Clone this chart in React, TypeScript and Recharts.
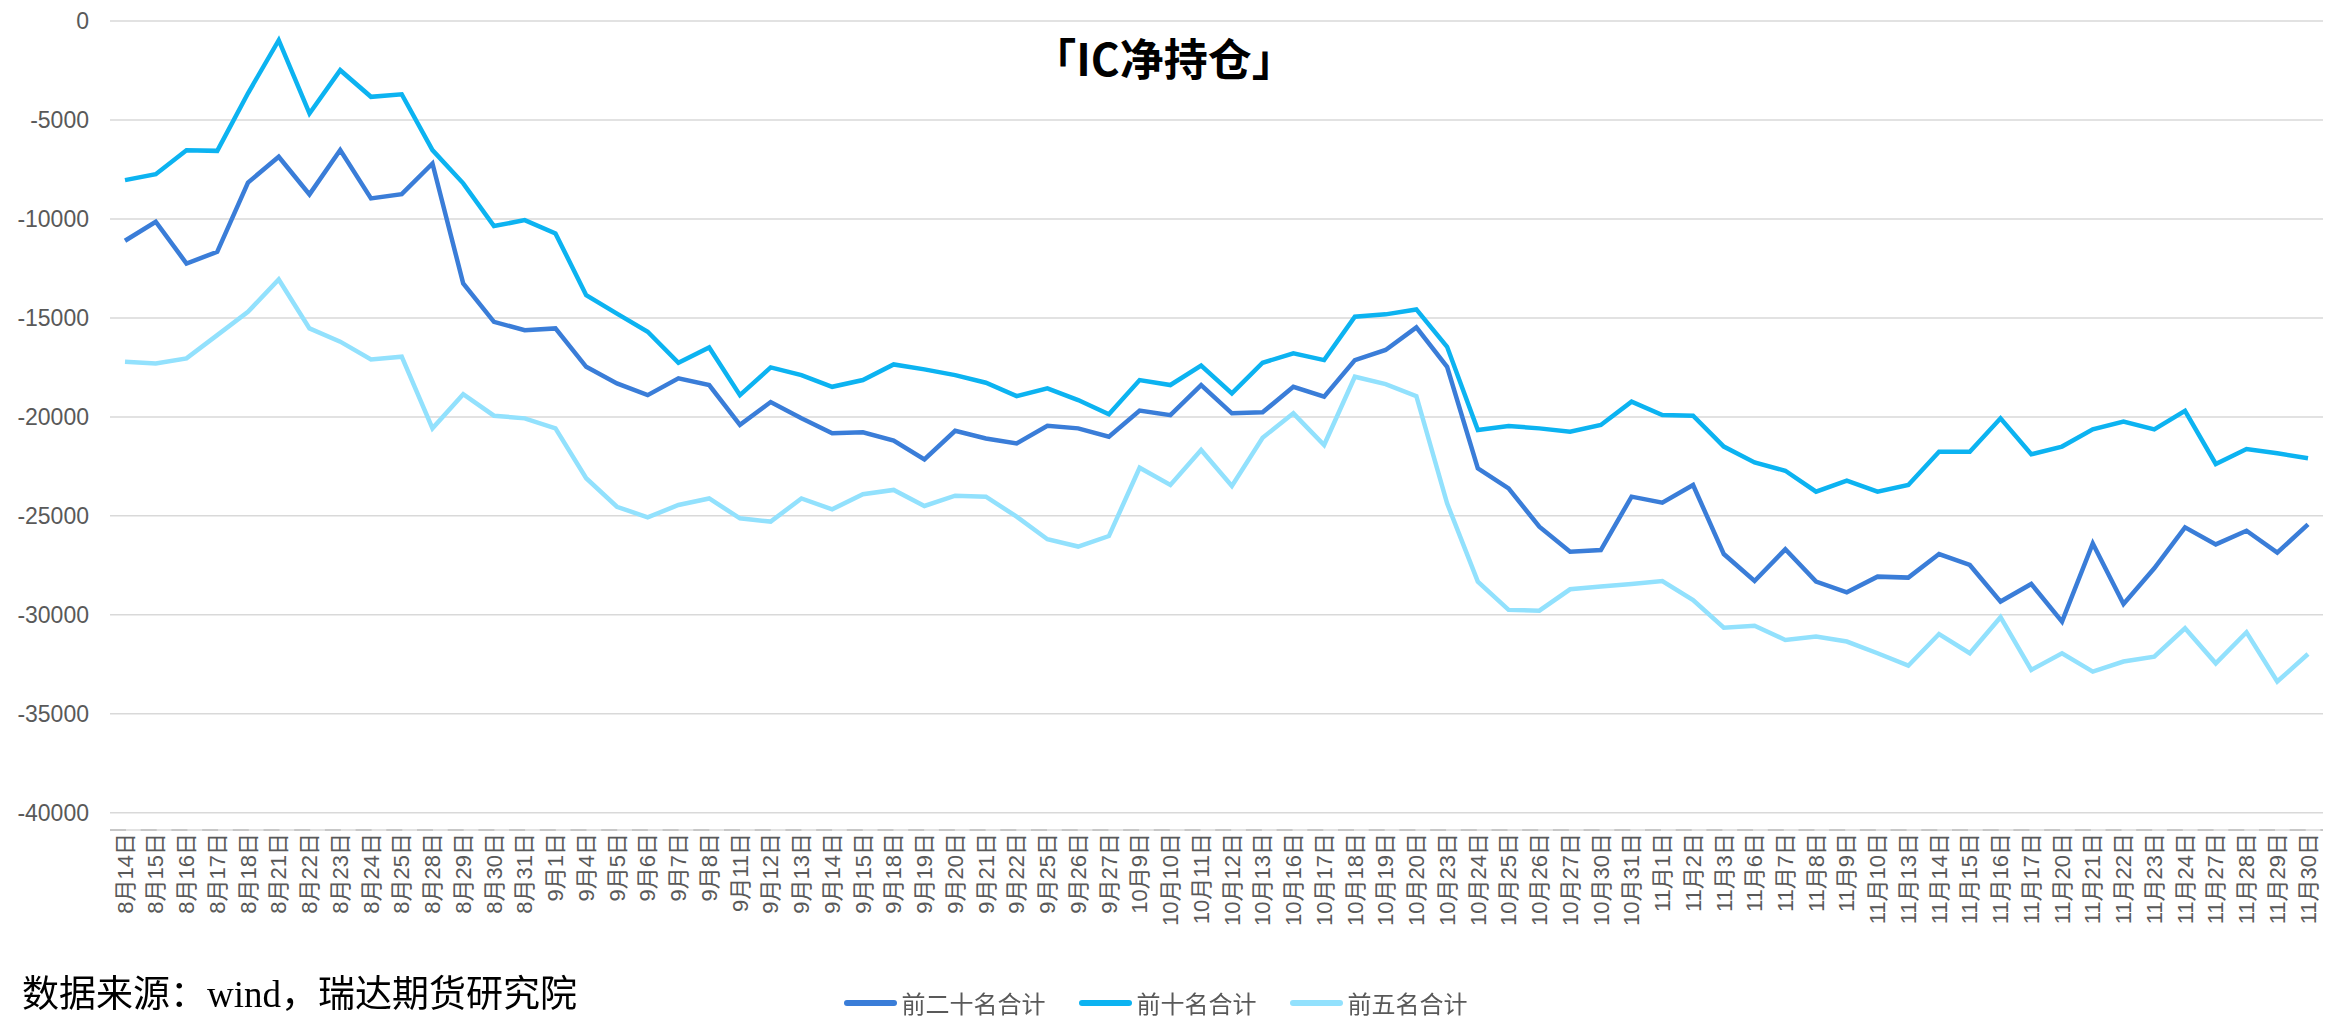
import React from 'react';
import { LineChart, Line, XAxis, YAxis, CartesianGrid, Legend } from 'recharts';

const dates = [
  '8月14日', '8月15日', '8月16日', '8月17日', '8月18日', '8月21日', '8月22日', '8月23日', '8月24日', '8月25日',
  '8月28日', '8月29日', '8月30日', '8月31日', '9月1日', '9月4日', '9月5日', '9月6日', '9月7日', '9月8日',
  '9月11日', '9月12日', '9月13日', '9月14日', '9月15日', '9月18日', '9月19日', '9月20日', '9月21日', '9月22日',
  '9月25日', '9月26日', '9月27日', '10月9日', '10月10日', '10月11日', '10月12日', '10月13日', '10月16日', '10月17日',
  '10月18日', '10月19日', '10月20日', '10月23日', '10月24日', '10月25日', '10月26日', '10月27日', '10月30日', '10月31日',
  '11月1日', '11月2日', '11月3日', '11月6日', '11月7日', '11月8日', '11月9日', '11月10日', '11月13日', '11月14日',
  '11月15日', '11月16日', '11月17日', '11月20日', '11月21日', '11月22日', '11月23日', '11月24日', '11月27日', '11月28日',
  '11月29日', '11月30日',
];

// 前二十名合计
const top20 = [
  -11100, -10140, -12250, -11660, -8160, -6860, -8760, -6520, -8960, -8750,
  -7200, -13260, -15200, -15620, -15530, -17470, -18310, -18900, -18050, -18390,
  -20400, -19250, -20070, -20830, -20780, -21200, -22150, -20700, -21090, -21340,
  -20450, -20580, -21000, -19680, -19910, -18390, -19820, -19770, -18480, -18980,
  -17130, -16620, -15480, -17470, -22600, -23610, -25550, -26810, -26725, -24030,
  -24335, -23440, -26930, -28290, -26690, -28320, -28860, -28070, -28120, -26930,
  -27480, -29330, -28440, -30340, -26390, -29450, -27650, -25580, -26440, -25750,
  -26860, -25430,
];

// 前十名合计
const top10 = [
  -8040, -7740, -6525, -6560, -3650, -970, -4670, -2485, -3830, -3700,
  -6520, -8200, -10360, -10060, -10730, -13850, -14780, -15700, -17265, -16490,
  -18900, -17500, -17890, -18480, -18140, -17350, -17600, -17890, -18275, -18950,
  -18560, -19150, -19870, -18140, -18390, -17410, -18810, -17265, -16790, -17130,
  -14940, -14820, -14570, -16460, -20660, -20460, -20580, -20750, -20410, -19230,
  -19910, -19940, -21500, -22300, -22720, -23780, -23220, -23780, -23440, -21760,
  -21760, -20070, -21890, -21500, -20630, -20240, -20630, -19690, -22380, -21620,
  -21840, -22090,
];

// 前五名合计
const top5 = [
  -17215, -17300, -17045, -15870, -14690, -13060, -15530, -16200, -17100, -16960,
  -20580, -18850, -19940, -20075, -20580, -23100, -24540, -25075, -24450, -24120,
  -25125, -25290, -24120, -24670, -23910, -23690, -24500, -23980, -24030, -25040,
  -26180, -26550, -26020, -22570, -23440, -21670, -23490, -21050, -19820, -21420,
  -17970, -18340, -18950, -24370, -28320, -29750, -29790, -28710, -28570, -28440,
  -28290, -29250, -30650, -30550, -31270, -31100, -31350, -31940, -32570, -30970,
  -31940, -30120, -32780, -31940, -32870, -32360, -32110, -30680, -32450, -30880,
  -33370, -31980,
];

const yTicks = [0, -5000, -10000, -15000, -20000, -25000, -30000, -35000, -40000];

const series = [
  { key: 'top20', name: '前二十名合计', color: '#3A7DD8' },
  { key: 'top10', name: '前十名合计', color: '#0CB3F1' },
  { key: 'top5', name: '前五名合计', color: '#92E1FD' },
];

const chartData = dates.map((date, i) => ({
  date,
  top20: top20[i],
  top10: top10[i],
  top5: top5[i],
}));

const latinFont = "'Liberation Sans', Arial, 'Noto Sans CJK SC', sans-serif";
const cjkFont = "'Noto Sans CJK SC', 'Liberation Sans', sans-serif";

const DateTick = (props: any) => {
  const { x, y, payload } = props;
  return (
    <text
      x={x}
      y={y}
      transform={`rotate(-90, ${x}, ${y})`}
      textAnchor="end"
      dy="0.35em"
      fill="#595959"
      fontSize={22}
      fontFamily={latinFont}
    >
      {payload.value}
    </text>
  );
};

// keep the legend in series order (recharts sorts payload by name otherwise)
const LegendContent = (props: any) => {
  const payload = props.payload || [];
  const items = series.map(s => {
    const found = payload.find((p: any) => p.dataKey === s.key);
    return { value: s.name, color: found ? found.color : s.color };
  });
  return (
    <div style={{ display: 'flex', justifyContent: 'center', alignItems: 'center', height: 30, gap: 33, paddingRight: 12 }}>
      {items.map(item => (
        <div key={item.value} style={{ display: 'flex', alignItems: 'center' }}>
          <span style={{ display: 'inline-block', width: 53, height: 6, borderRadius: 3, background: item.color, marginRight: 5 }} />
          <span style={{ fontSize: 24, color: '#595959', fontFamily: cjkFont, lineHeight: '30px' }}>{item.value}</span>
        </div>
      ))}
    </div>
  );
};

export default function App() {
  return (
    <div style={{ position: 'fixed', left: 0, top: 0, width: 2328, height: 1018, background: '#fff' }}>
      <LineChart width={2328} height={1018} data={chartData} margin={{ top: 21, right: 5, left: 0, bottom: 58 }}>
        <CartesianGrid vertical={false} stroke="#D9D9D9" strokeWidth={1.5} />
        <XAxis
          dataKey="date"
          interval={0}
          height={100}
          padding={{ left: 15, right: 15 }}
          tick={<DateTick />}
          tickLine={false}
          tickSize={0}
          tickMargin={3}
          axisLine={{ stroke: '#BFBFBF', strokeWidth: 1.5, strokeDasharray: '16 14.7' }}
        />
        <YAxis
          type="number"
          width={110}
          domain={[-40870, 0]}
          ticks={yTicks}
          interval={0}
          axisLine={false}
          tickLine={false}
          tickSize={6}
          tickMargin={15}
          tick={{ fill: '#595959', fontSize: 23, fontFamily: latinFont }}
        />
        {series.map(s => (
          <Line
            key={s.key}
            type="linear"
            dataKey={s.key}
            name={s.name}
            stroke={s.color}
            strokeWidth={4.5}
            dot={false}
            activeDot={false}
            isAnimationActive={false}
          />
        ))}
        <Legend verticalAlign="bottom" wrapperStyle={{ bottom: 0 }} content={<LegendContent />} />
      </LineChart>
      <div
        style={{
          position: 'absolute', left: 0, top: 35, width: 2328, textAlign: 'center',
          fontSize: 44, fontWeight: 700, lineHeight: 1, color: '#000', fontFamily: cjkFont,
        }}
      >
        「IC净持仓」
      </div>
      <div
        style={{
          position: 'absolute', left: 22, top: 976, fontSize: 37, lineHeight: 1,
          color: '#000', fontFamily: "'Liberation Serif', 'Noto Sans CJK SC', serif",
        }}
      >
        数据来源：wind，瑞达期货研究院
      </div>
    </div>
  );
}
